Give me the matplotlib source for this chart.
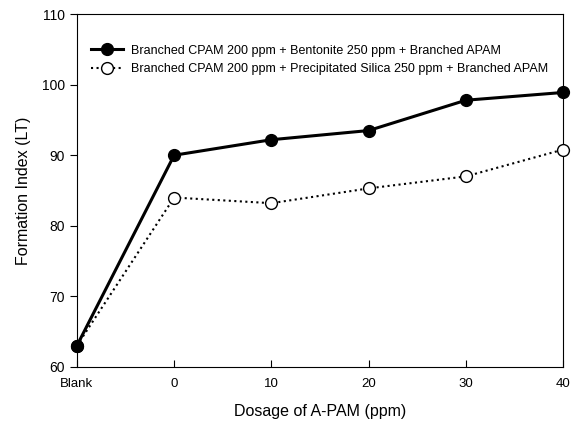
import numpy as np
import matplotlib.pyplot as plt

plt.rcParams['font.family'] = ['Liberation Sans', 'DejaVu Sans']

categories = ['Blank', '0', '10', '20', '30', '40']
bentonite = [63.0, 90.0, 92.2, 93.5, 97.8, 98.9]
silica = [63.0, 84.0, 83.2, 85.3, 87.0, 90.8]
label_bent = 'Branched CPAM 200 ppm + Bentonite 250 ppm + Branched APAM'
label_sil = 'Branched CPAM 200 ppm + Precipitated Silica 250 ppm + Branched APAM'

fig = plt.figure(figsize=(5.74, 4.30), dpi=100)
ax = fig.add_axes([0.134, 0.147, 0.847, 0.820])

x = np.arange(len(categories))
ax.plot(x, bentonite, '-', color='black', lw=2.2, marker='o', ms=8.5,
        mfc='black', mec='black', clip_on=False, zorder=4, label=label_bent)
ax.plot(x, silica, ':', color='black', lw=1.5, marker='o', ms=8.5,
        mfc='white', mec='black', mew=1.0, clip_on=False, zorder=3, label=label_sil)

ax.set_xlim(0, 5)
ax.set_ylim(60, 110)
ax.set_xticks(x)
ax.set_xticklabels(categories)
ax.set_yticks(np.arange(60, 111, 10))
ax.tick_params(axis='x', direction='in', length=5, labelsize=9.5, pad=8)
ax.tick_params(axis='y', direction='out', length=5, labelsize=10)

ax.set_xlabel('Dosage of A-PAM (ppm)', fontsize=11.5, labelpad=10)
ax.set_ylabel('Formation Index (LT)', fontsize=11.5, labelpad=8)

ax.legend(loc='upper left', bbox_to_anchor=(-0.005, 0.96), frameon=False,
          fontsize=9, handlelength=2.6, handletextpad=0.6,
          labelspacing=0.55, borderaxespad=0.9)

fig.savefig('out.png', dpi=100)
